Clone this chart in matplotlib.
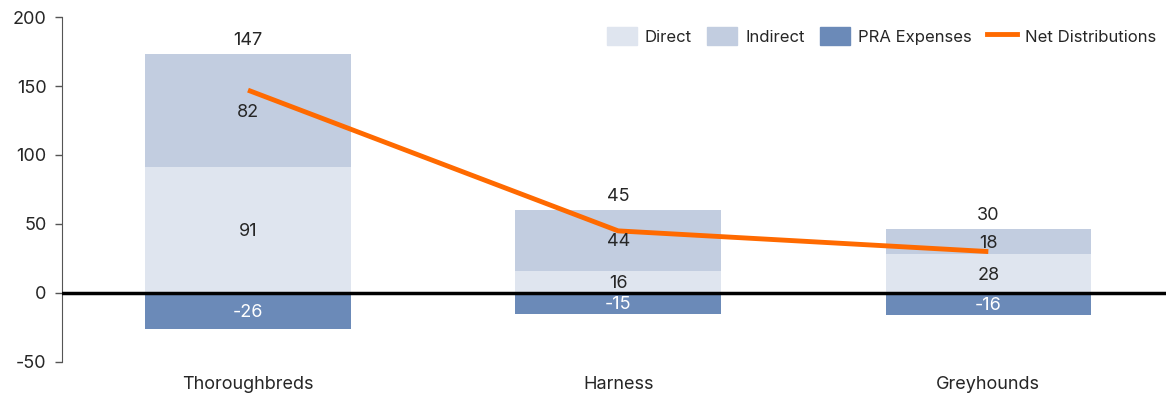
import matplotlib.pyplot as plt
import numpy as np
from matplotlib.patches import Patch
from matplotlib.lines import Line2D

plt.rcParams['font.family'] = ['Inter', 'DejaVu Sans']
plt.rcParams['axes.unicode_minus'] = False

categories = ["Thoroughbreds", "Harness", "Greyhounds"]
direct = [91, 16, 28]
indirect = [82, 44, 18]
pra_expenses = [-26, -15, -16]
net_distributions = [147, 45, 30]

c_direct = "#dfe5ef"
c_indirect = "#c2cde0"
c_pra = "#6b8ab8"
c_net = "#ff6a00"
txt = "#262626"
fs = 13

fig = plt.figure(figsize=(11.66, 3.96), dpi=100)
ax = fig.add_axes([0.053, 0.086, 0.947, 0.871])

x = np.arange(len(categories))
w = 0.555
ax.bar(x, direct, w, color=c_direct)
ax.bar(x, indirect, w, bottom=direct, color=c_indirect)
ax.bar(x, pra_expenses, w, color=c_pra)
ax.plot(x, net_distributions, color=c_net, lw=3.5, solid_capstyle="butt", zorder=3)

ax.axhline(0, color="black", lw=2.5, zorder=4)

# segment labels inside the bars, net total above each stack
for i in range(len(x)):
    ax.text(x[i], direct[i] / 2 - 1, str(direct[i]), ha="center", va="center", fontsize=fs, color=txt, zorder=5)
    ax.text(x[i], direct[i] + indirect[i] / 2 - 1, str(indirect[i]), ha="center", va="center", fontsize=fs, color=txt, zorder=5)
    ax.text(x[i], pra_expenses[i] / 2 - 1, str(pra_expenses[i]), ha="center", va="center", fontsize=fs, color="white", zorder=5)
    top = direct[i] + indirect[i]
    ax.text(x[i], top + 4, str(net_distributions[i]), ha="center", va="bottom", fontsize=fs, color=txt, zorder=5)

ax.set_xlim(-0.503, 2.48)
ax.set_ylim(-50, 200)
ax.set_yticks([-50, 0, 50, 100, 150, 200])
ax.set_xticks(x)
ax.set_xticklabels(categories)
ax.tick_params(axis="x", length=0, labelsize=fs, labelcolor=txt, pad=10)
ax.tick_params(axis="y", length=5, width=1, color="#555555", labelsize=fs, labelcolor=txt, pad=6)

for s in ["top", "right", "bottom"]:
    ax.spines[s].set_visible(False)
ax.spines["left"].set_color("#555555")

handles = [
    Patch(color=c_direct, label="Direct"),
    Patch(color=c_indirect, label="Indirect"),
    Patch(color=c_pra, label="PRA Expenses"),
    Line2D([0], [0], color=c_net, lw=3.5, label="Net Distributions"),
]
ax.legend(handles=handles, ncol=4, loc="upper right", bbox_to_anchor=(1.005, 1.015),
          frameon=False, fontsize=12, handlelength=1.8, handleheight=1.3,
          columnspacing=0.9, handletextpad=0.5, labelcolor=txt)

fig.savefig("out.png", dpi=100)
